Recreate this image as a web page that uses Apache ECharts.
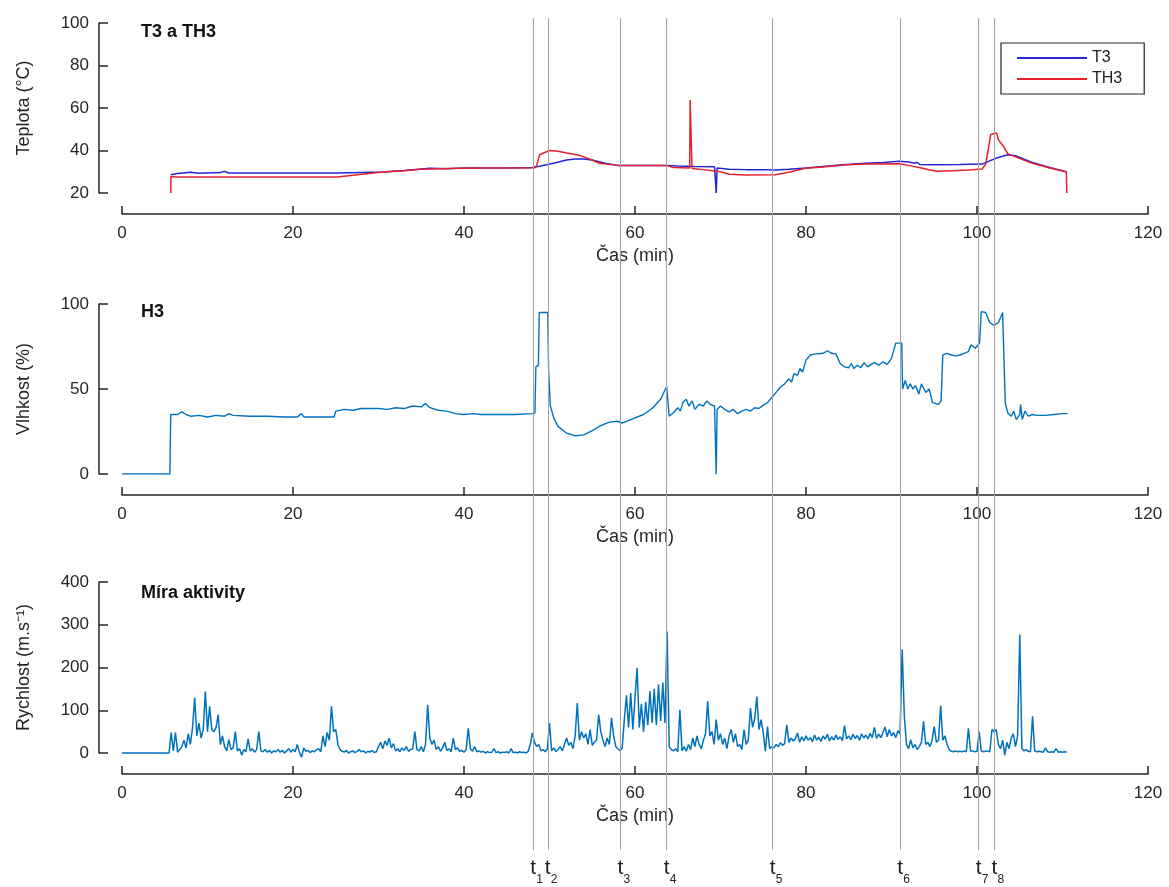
<!DOCTYPE html>
<html>
<head>
<meta charset="utf-8">
<title>T3, TH3, H3 a míra aktivity</title>
<script src="https://cdn.jsdelivr.net/npm/echarts@6/dist/echarts.min.js"></script>
<style>
  html, body { margin: 0; padding: 0; background: #ffffff; }
  #chart { width: 1169px; height: 887px; }
</style>
</head>
<body>
<div id="chart"></div>
<script>
// ---------------- data (time in minutes) ----------------

// Teplota senzoru T3 (°C)
const t3Time = [5.7, 6.5, 8, 9, 11.5, 12, 12.5, 15, 20, 25, 28, 30.5, 33, 35, 36, 38, 40, 45, 48, 48.5,
  49.5, 50.6, 52, 53, 54, 55, 56.5, 58, 60, 63.7, 65, 67, 69.3, 69.45, 69.5, 69.6, 71, 73, 75, 76.4,
  78, 80, 82, 84.3, 87, 89, 90.9, 92, 92.7, 93, 93.3, 95, 98, 100.6, 101, 102.3, 103.6, 104.5, 106.3, 108.5,
  110.2, 110.5];
const t3Value = [28.6, 29.2, 29.8, 29.3, 29.6, 30.2, 29.4, 29.4, 29.4, 29.4, 29.7, 29.9, 30.6, 31.3, 31.6, 31.4, 31.8, 31.8, 32, 32.3,
  33.2, 34.1, 35.5, 36, 36, 35.5, 34, 33, 33, 33, 32.7, 32.5, 32.3, 32.2, 20, 31.8, 31.2, 31, 31, 30.8,
  31.2, 31.8, 32.5, 33.3, 34, 34.4, 34.9, 34.6, 34, 34.5, 33.4, 33.3, 33.4, 33.6, 34.3, 36.5, 38, 37.5, 34.6, 32,
  30.2, 29.8];

// Teplota senzoru TH3 (°C)
const th3Time = [5.7, 5.72, 6.4, 10, 15, 20, 25.2, 27, 28, 30.5, 33, 35, 37, 39.4, 42, 45, 48.3, 48.5, 48.85, 50,
  51, 52, 53.6, 55, 55.8, 58, 60, 63.7, 64.5, 66.4, 66.45, 66.62, 66.67, 68, 70, 71, 73, 76.4, 78, 79.9,
  82, 84.3, 87, 90.9, 92, 93.5, 94.5, 95.3, 97, 99, 100.6, 101, 101.3, 101.6, 102.3, 102.5, 103, 103.6, 104.5, 106.3,
  108.5, 110.2, 110.45, 110.5];
const th3Value = [20, 27.8, 27.5, 27.5, 27.5, 27.5, 27.5, 28.3, 28.8, 29.9, 30.5, 31.2, 31.4, 31.6, 31.8, 31.8, 31.9, 33, 38, 40,
  39.6, 38.8, 37.6, 35.5, 34, 33, 33, 33, 32, 31.8, 63.8, 63.8, 31.5, 31, 30, 28.8, 28.5, 28.6, 29.8, 31.6,
  32.2, 33.2, 33.6, 33.8, 33, 31.8, 30.8, 30.2, 30.5, 30.8, 31.3, 33.5, 40, 47.5, 48.2, 45, 42.5, 38.5, 37, 34.2,
  31.8, 30.2, 30, 20];

// Vlhkost H3 (%)
const h3Time = [0, 5.6, 5.7, 6.5, 7, 7.5, 8, 9, 10, 11, 12, 12.5, 13, 15, 17, 19, 20.5, 21, 21.3, 23,
  24.8, 25, 26, 27, 28, 30, 31, 32, 33, 34, 35, 35.5, 36, 37, 38, 39, 40, 41, 42, 44,
  46, 48, 48.3, 48.4, 48.7, 48.8, 49.8, 49.9, 50.1, 50.5, 51, 52, 53, 54, 55, 56, 57, 58, 58.5, 59,
  60, 61, 62, 63, 63.7, 63.9, 64, 64.5, 65, 65.3, 65.6, 66, 66.3, 66.7, 67, 67.5, 68, 68.4, 68.8, 69.3,
  69.5, 69.6, 70, 70.5, 71, 71.5, 72, 72.5, 73, 73.5, 74, 74.5, 75, 75.5, 76, 76.5, 77, 77.5, 78, 78.3,
  78.6, 79, 79.3, 79.6, 80, 80.5, 81, 82, 82.5, 83, 83.5, 84, 84.5, 85, 85.3, 85.6, 86, 86.4, 86.8, 87.2,
  87.6, 88, 88.5, 89, 89.5, 90, 90.5, 91.2, 91.3, 91.6, 91.9, 92.2, 92.5, 92.8, 93.2, 93.5, 94, 94.4, 94.8, 95.5,
  95.8, 96, 96.5, 97, 97.5, 98, 98.5, 99, 99.3, 99.8, 100.3, 100.5, 101, 101.5, 102, 102.5, 103, 103.1, 103.3, 103.6,
  104, 104.3, 104.6, 105, 105.1, 105.3, 105.6, 106, 106.5, 107, 108, 109, 110, 110.6];
const h3Value = [0, 0, 35, 35, 36.5, 35, 34, 34.5, 33.5, 34.5, 34, 35.5, 34.5, 34, 34, 33.5, 33.5, 35.5, 33.5, 33.5,
  33.5, 37, 38, 37.5, 38.5, 38.5, 38, 39, 38.5, 40, 39.5, 41.5, 39, 37.5, 37, 35.5, 35, 35.5, 35, 35,
  35, 35.5, 36, 63, 64, 95, 95, 60, 40, 33, 28, 24, 22.5, 23, 25.5, 28.5, 30.5, 31, 30, 31,
  33, 35, 38.5, 44, 51.5, 40, 34, 36, 39, 37, 42, 44, 40, 43, 38, 41, 40, 43, 41, 40,
  0, 38, 40, 38, 36.5, 38, 35.5, 37, 38, 37, 39, 38.5, 40.5, 42, 45, 48, 51, 53, 56, 54,
  59, 58, 62, 60, 67, 70, 70.5, 71, 72.5, 71, 70.5, 65, 63, 62.5, 65, 62, 64, 62.5, 65.5, 63,
  64.5, 65.5, 64, 66, 64.5, 68, 77, 77, 50, 55, 50, 53, 50, 52, 47, 53, 48, 50, 42, 41,
  43, 70, 71, 70, 69.5, 70, 71, 72, 76, 74, 77, 95.5, 95, 89, 87.5, 89, 95, 95.5, 42, 36,
  34, 37, 32, 35, 41, 32, 37, 34, 35, 34.5, 34.5, 35, 35.5, 35.5];

// Míra aktivity (m.s^-1), vzorkováno po 0,25 min od času 0
const activityStep = 0.25;
const activityValue = [
  /*   0.0 */ 0, 0, 0, 0, 0, 0, 0, 0, 0, 0, 0, 0, 0, 0, 0, 0, 0, 0, 0, 0,
  /*   5.0 */ 0, 0, 0, 48, 5, 48, 2, 8, 15, 30, 12, 45, 20, 60, 129, 40, 70, 35, 55, 144,
  /*  10.0 */ 50, 109, 55, 50, 60, 90, 20, 40, 15, 5, 31, 8, 12, 50, 5, 10, -5, 8, 3, 33,
  /*  15.0 */ 5, 10, 2, 8, 50, 5, 3, 8, 2, 6, 0, 5, 3, 8, 2, 6, 0, 5, 10, 2,
  /*  20.0 */ 8, 3, 20, 2, -10, 12, 4, 6, 1, 5, 3, 8, 10, 3, 40, 15, 48, 30, 109, 50,
  /*  25.0 */ 55, 20, 8, 4, 2, 6, 0, 3, 5, 1, 4, 8, 3, 5, 0, 4, 2, 6, 1, 3,
  /*  30.0 */ 15, 25, 10, 28, 18, 35, 12, 22, 5, 10, 3, 12, 6, 15, 4, 8, 10, 50, 8, 5,
  /*  35.0 */ 15, 3, 20, 113, 35, 20, 30, 8, 15, 4, 12, 25, 6, 10, 3, 35, 8, 12, 4, 6,
  /*  40.0 */ 2, 8, 58, 10, 4, 15, 3, 5, 2, 4, 0, 3, 1, 2, 10, 1, 3, 0, 2, 1,
  /*  45.0 */ 3, 0, 10, 1, 2, 0, 3, 1, 2, 0, 4, 20, 47, 25, 15, 20, 5, 8, 3, 10,
  /*  50.0 */ 70, 5, 12, 3, 8, 15, 5, 20, 35, 18, 25, 10, 40, 117, 30, 50, 35, 45, 20, 55,
  /*  55.0 */ 18, 25, 30, 90, 50, 30, 15, 35, 20, 82, 40, 15, 10, 5, 12, 78, 135, 60, 140, 55,
  /*  60.0 */ 130, 199, 60, 115, 50, 120, 65, 145, 70, 150, 65, 160, 75, 165, 70, 284, 15, 8, 5, 10,
  /*  65.0 */ 3, 101, 5, 15, 4, 20, 8, 35, 15, 40, 20, 10, 30, 45, 121, 40, 50, 20, 78, 30,
  /*  70.0 */ 45, 20, 35, 10, 40, 55, 25, 45, 15, 20, 8, 55, 20, 30, 105, 60, 80, 132, 55, 78,
  /*  75.0 */ 47, 4, 62, 10, 15, 12, 20, 15, 24, 18, 22, 66, 25, 35, 28, 33, 47, 25, 38, 28,
  /*  80.0 */ 40, 30, 36, 26, 42, 30, 37, 27, 40, 32, 44, 28, 38, 30, 42, 32, 38, 29, 64, 33,
  /*  85.0 */ 40, 31, 44, 34, 41, 30, 45, 35, 42, 33, 46, 36, 60, 34, 44, 36, 48, 61, 38, 55,
  /*  90.0 */ 40, 48, 36, 52, 45, 242, 86, 20, 10, 31, 12, 20, 8, 15, 25, 74, 20, 25, 15, 30,
  /*  95.0 */ 62, 25, 30, 111, 30, 40, 20, 8, 4, 3, 5, 3, 4, 3, 5, 3, 58, 4, 5, 3,
  /* 100.0 */ 4, 50, 5, 3, 4, 5, 3, 55, 50, 55, 20, 10, 30, -5, 25, 10, 35, 45, 15, 40,
  /* 105.0 */ 277, 10, 5, 8, 4, 3, 86, 5, 3, 4, 3, 2, 12, 3, 2, 3, 2, 10, 2, 3,
  /* 110.0 */ 2, 3, 2
];

// Významné okamžiky t1..t8 (min)
const eventTimes = [48.1, 49.8, 58.3, 63.7, 76.1, 91.0, 100.2, 102.05];
const eventNames = ['1', '2', '3', '4', '5', '6', '7', '8'];

// Osa času
const timeMin = 0, timeMax = 120, timeInterval = 20;

// ---------------- chart ----------------
const FONT = '"Liberation Sans", Arial, Helvetica, sans-serif';
const INK = '#262626';
const PLOT_LEFT = 122;
const PLOT_RIGHT = 21;

const pairs = (xs, ys) => xs.map((x, i) => [x, ys[i]]);
const activityData = activityValue.map((v, i) => [i * activityStep, v]);

function timeAxis(gridIndex) {
  return {
    type: 'value', gridIndex: gridIndex, position: 'bottom',
    min: timeMin, max: timeMax, interval: timeInterval,
    offset: 21,
    name: 'Čas (min)', nameLocation: 'middle', nameGap: 33,
    nameTextStyle: { fontFamily: FONT, fontSize: 18, color: INK },
    axisLine: { show: true, onZero: false, lineStyle: { color: INK, width: 1.5 } },
    axisTick: { show: true, inside: true, length: 8, lineStyle: { color: INK, width: 1.5 } },
    axisLabel: { margin: 11, fontFamily: FONT, fontSize: 17, color: INK },
    splitLine: { show: false }
  };
}

function valueAxis(gridIndex, min, max, interval, name) {
  return {
    type: 'value', gridIndex: gridIndex, position: 'left',
    min: min, max: max, interval: interval,
    offset: 23,
    name: name, nameLocation: 'middle', nameGap: 66, nameRotate: 90,
    nameTextStyle: { fontFamily: FONT, fontSize: 18, color: INK },
    axisLine: { show: true, onZero: false, lineStyle: { color: INK, width: 1.5 } },
    axisTick: { show: true, inside: true, length: 9, lineStyle: { color: INK, width: 1.5 } },
    axisLabel: { margin: 10, fontFamily: FONT, fontSize: 17, color: INK },
    splitLine: { show: false }
  };
}

const panelTitle = (text, top) => ({
  text: text, left: 141, top: top, padding: 0,
  textStyle: { fontFamily: FONT, fontSize: 18, fontWeight: 'bold', color: '#111' }
});

const option = {
  animation: false,
  backgroundColor: '#ffffff',
  title: [
    panelTitle('T3 a TH3', 23),
    panelTitle('H3', 303),
    panelTitle('Míra aktivity', 584)
  ],
  legend: {
    data: ['T3', 'TH3'],
    orient: 'vertical',
    left: 1001, top: 43,
    icon: 'rect',
    itemWidth: 70, itemHeight: 2, itemGap: 5,
    padding: [7, 22, 7, 16],
    borderColor: '#222', borderWidth: 1.2, borderRadius: 0,
    backgroundColor: '#ffffff',
    textStyle: { fontFamily: FONT, fontSize: 16, color: '#222' }
  },
  grid: [
    { left: PLOT_LEFT, right: PLOT_RIGHT, top: 23, height: 170 },
    { left: PLOT_LEFT, right: PLOT_RIGHT, top: 304, height: 170 },
    { left: PLOT_LEFT, right: PLOT_RIGHT, top: 582, height: 171 },
    { left: PLOT_LEFT, right: PLOT_RIGHT, top: 18, height: 832 }
  ],
  xAxis: [
    timeAxis(0), timeAxis(1), timeAxis(2),
    { type: 'value', gridIndex: 3, min: timeMin, max: timeMax, show: false }
  ],
  yAxis: [
    valueAxis(0, 20, 100, 20, 'Teplota (°C)'),
    valueAxis(1, 0, 100, 50, 'Vlhkost (%)'),
    valueAxis(2, 0, 400, 100, 'Rychlost (m.s⁻¹)'),
    { type: 'value', gridIndex: 3, min: 0, max: 1, show: false }
  ],
  series: [
    {
      name: 'Události', type: 'line', xAxisIndex: 3, yAxisIndex: 3, data: [], z: 1,
      markLine: {
        silent: true, animation: false, symbol: ['none', 'none'],
        lineStyle: { color: '#a2a2a2', width: 1, type: 'solid' },
        label: {
          show: true, position: 'start', distance: 8,
          rich: {
            pad: { width: 7, lineHeight: 28 },
            t: { fontFamily: FONT, fontSize: 21, lineHeight: 21, verticalAlign: 'top', color: '#222' },
            sub: { fontFamily: FONT, fontSize: 12, lineHeight: 12, width: 7, verticalAlign: 'bottom', color: '#222' }
          }
        },
        emphasis: { disabled: true },
        data: eventTimes.map((t, i) => ({
          xAxis: t,
          label: { formatter: '{pad|}{t|t}{sub|' + eventNames[i] + '}' }
        }))
      }
    },
    {
      name: 'T3', type: 'line', xAxisIndex: 0, yAxisIndex: 0, z: 3,
      data: pairs(t3Time, t3Value), symbol: 'none',
      lineStyle: { color: '#2424d8', width: 1.5 }, itemStyle: { color: '#2424d8' }
    },
    {
      name: 'TH3', type: 'line', xAxisIndex: 0, yAxisIndex: 0, z: 4,
      data: pairs(th3Time, th3Value), symbol: 'none',
      lineStyle: { color: '#e8202b', width: 1.5 }, itemStyle: { color: '#e8202b' }
    },
    {
      name: 'H3', type: 'line', xAxisIndex: 1, yAxisIndex: 1, z: 3,
      data: pairs(h3Time, h3Value), symbol: 'none',
      lineStyle: { color: '#0072BD', width: 1.4 }, itemStyle: { color: '#0072BD' }
    },
    {
      name: 'Aktivita', type: 'line', xAxisIndex: 2, yAxisIndex: 2, z: 3, clip: false,
      data: activityData, symbol: 'none',
      lineStyle: { color: '#0072BD', width: 1.5 }, itemStyle: { color: '#0072BD' }
    }
  ]
};

const chart = echarts.init(document.getElementById('chart'), null, { renderer: 'canvas' });
chart.setOption(option);
</script>
</body>
</html>
